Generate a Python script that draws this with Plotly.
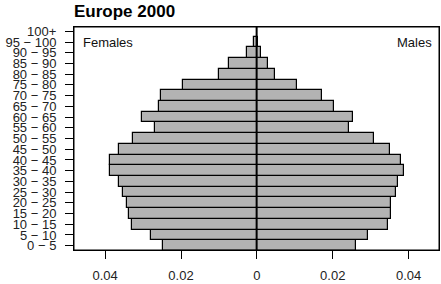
import plotly.graph_objects as go

age_groups = ["0 − 5", "5 − 10", "10 − 15", "15 − 20", "20 − 25", "25 − 30", "30 − 35",
              "35 − 40", "40 − 45", "45 − 50", "50 − 55", "55 − 60", "60 − 65", "65 − 70",
              "70 − 75", "75 − 80", "80 − 85", "85 − 90", "90 − 95", "95 − 100", "100+"]
females = [0.0247, 0.0279, 0.0328, 0.0338, 0.0343, 0.0353, 0.0363, 0.0387, 0.0387, 0.0363,
           0.0326, 0.0268, 0.0302, 0.0257, 0.0253, 0.0196, 0.0100, 0.0074, 0.0027, 0.0007, 0.0001]
males = [0.0260, 0.0294, 0.0346, 0.0353, 0.0354, 0.0366, 0.0372, 0.0389, 0.0381, 0.0352,
         0.0308, 0.0243, 0.0254, 0.0203, 0.0172, 0.0106, 0.0049, 0.0028, 0.0010, 0.0002, 0.0001]
x_ticks = [-0.04, -0.02, 0, 0.02, 0.04]
x_tick_labels = ["0.04", "0.02", "0", "0.02", "0.04"]

ypos = list(range(len(age_groups)))
bar_style = dict(color="#b3b3b3", line=dict(color="black", width=1.2))

fig = go.Figure()
fig.add_trace(go.Bar(y=ypos, x=[-v for v in females], orientation="h", marker=bar_style,
                     name="Females", showlegend=False))
fig.add_trace(go.Bar(y=ypos, x=males, orientation="h", marker=bar_style,
                     name="Males", showlegend=False))

font_family = "Liberation Sans, Arial, sans-serif"
fig.update_layout(
    width=441, height=284,
    margin=dict(l=74, r=2, t=27, b=34),
    barmode="overlay", bargap=0,
    plot_bgcolor="white", paper_bgcolor="white",
    font=dict(family=font_family, size=13, color="black"),
    title=dict(text="<b>Europe 2000</b>", x=0.0, xref="paper", xanchor="left",
               y=1 - 11 / 284, yref="container", yanchor="middle",
               font=dict(size=17, family=font_family, color="black")),
    xaxis=dict(range=[-0.0482, 0.048], tickvals=x_ticks, ticktext=x_tick_labels,
               showgrid=False, zeroline=False, showline=True, linecolor="black",
               linewidth=1, mirror=True, ticks="outside", ticklen=8, tickcolor="black",
               ticklabelstandoff=5, tickfont=dict(size=13, color="#222")),
    yaxis=dict(range=[-0.4, 20.4], tickvals=ypos, ticktext=age_groups,
               showgrid=False, zeroline=False, showline=True, linecolor="black",
               linewidth=1, mirror=True, ticks="outside", ticklen=8, tickcolor="black",
               ticklabelstandoff=6, tickfont=dict(size=13, color="#222")),
    shapes=[dict(type="line", xref="x", yref="paper", x0=0, x1=0, y0=0, y1=1,
                 line=dict(color="black", width=1.5)),
            dict(type="rect", xref="paper", yref="paper", x0=0, x1=1, y0=0, y1=1,
                 line=dict(color="black", width=1), fillcolor="rgba(0,0,0,0)")],
    annotations=[
        dict(text="Females", xref="paper", yref="paper", x=0.02, y=0.93,
             xanchor="left", yanchor="middle", showarrow=False,
             font=dict(size=13, color="#111")),
        dict(text="Males", xref="paper", yref="paper", x=0.985, y=0.93,
             xanchor="right", yanchor="middle", showarrow=False,
             font=dict(size=13, color="#111")),
    ],
)

fig.write_html("out.html", config={"displayModeBar": False},
               post_script="document.body.style.margin='0';document.body.style.overflow='hidden';")
